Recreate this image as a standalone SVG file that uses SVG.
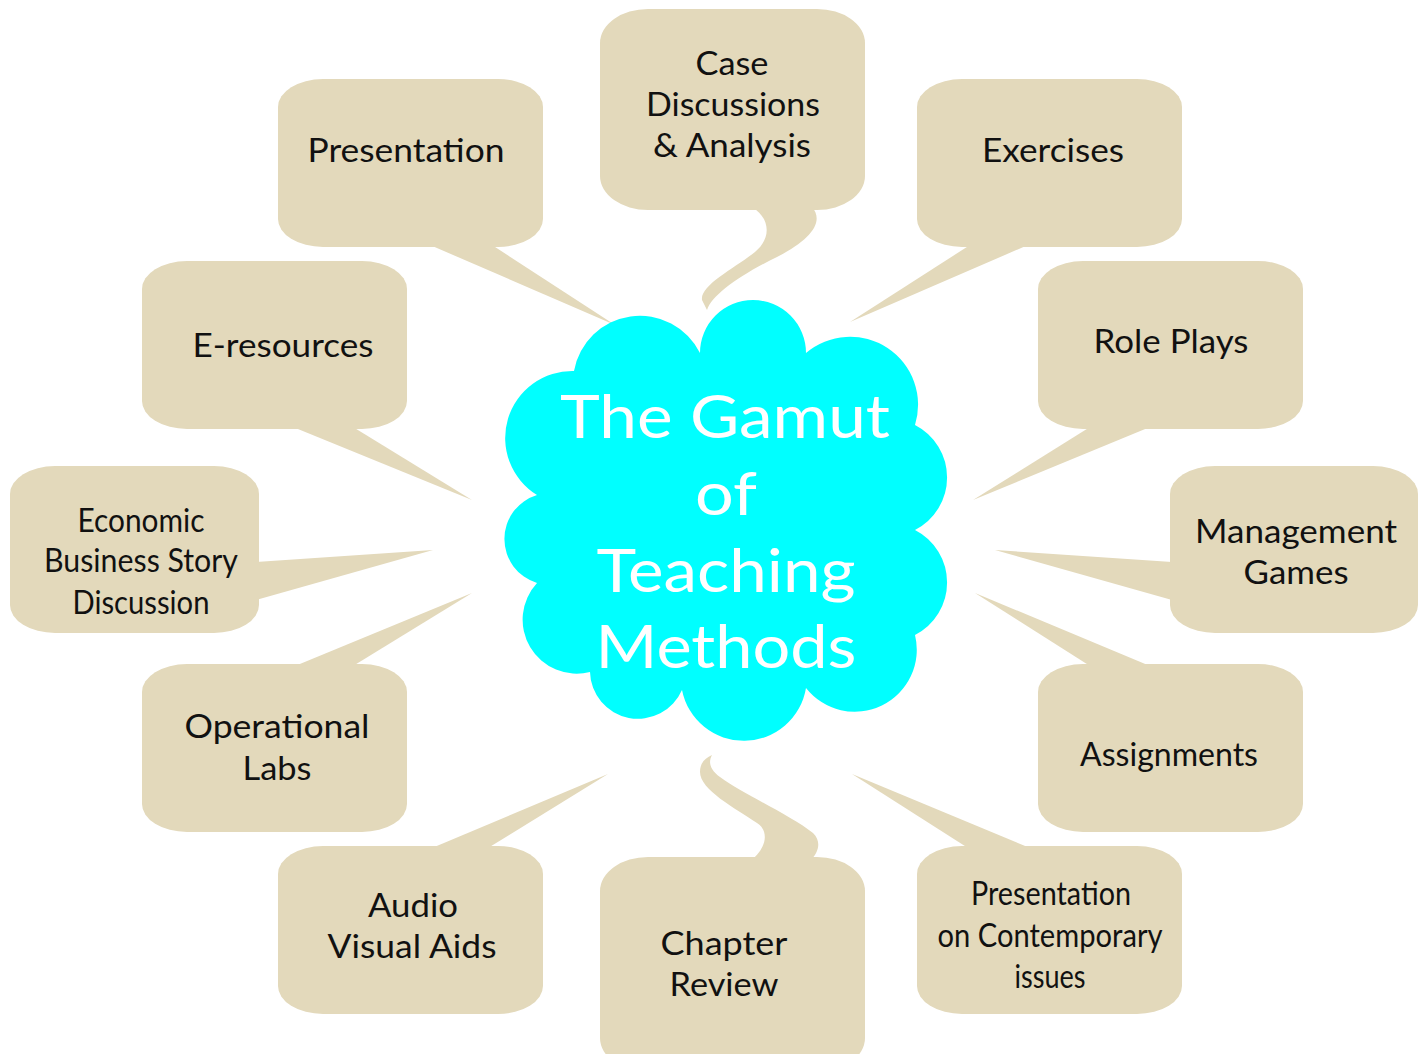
<svg xmlns="http://www.w3.org/2000/svg" width="1424" height="1054" viewBox="0 0 1424 1054">
<style>
.box{fill:#E3D9BB}
.tail{fill:#E3D9BB}
.t{font-family:Lato,"Open Sans","Liberation Sans",sans-serif;font-size:32px;fill:#111;text-anchor:middle}
.c{font-family:Lato,"Open Sans","Liberation Sans",sans-serif;font-size:60px;fill:#fff;text-anchor:middle}
</style>
<rect width="1424" height="1054" fill="#fff"/>
<g id="connectors">
<path class="tail" d="M430,245 L615,325 L492,245 Z"/>
<path class="tail" d="M970,245 L850,322 L1028,245 Z"/>
<path class="tail" d="M293,427 L472,500 L353,427 Z"/>
<path class="tail" d="M1090,427 L973,500 L1150,427 Z"/>
<path class="tail" d="M256,562 L433,550 L256,600 Z"/>
<path class="tail" d="M1172,562 L995,550 L1172,600 Z"/>
<path class="tail" d="M295,666 L472,593 L353,666 Z"/>
<path class="tail" d="M1090,666 L975,593 L1150,666 Z"/>
<path class="tail" d="M432,848 L608,774 L488,848 Z"/>
<path class="tail" d="M968,848 L852,774 L1030,848 Z"/>
<path class="tail" d="M752,207 C770,218 772,238 755,252 C735,268 700,285 702,300 L707,310 C712,295 740,275 777,257 C810,240 825,222 812,207 Z"/>
<path class="tail" d="M753,859 C768,845 768,830 757,823 C735,808 700,790 700,772 C700,763 705,758 712,755 C708,762 710,770 720,777 C745,795 790,815 813,833 C822,842 818,852 812,859 Z"/>
</g>
<g id="n-presentation"><rect class="box" x="278" y="79" width="265" height="168" rx="45" ry="28"/><text class="t" x="406" y="162" textLength="197" lengthAdjust="spacingAndGlyphs">Presentation</text></g>
<g id="n-case"><rect class="box" x="600" y="9" width="265" height="201" rx="48" ry="34"/><text class="t" x="732" y="75" textLength="73" lengthAdjust="spacingAndGlyphs">Case</text><text class="t" x="733" y="116" textLength="174" lengthAdjust="spacingAndGlyphs">Discussions</text><text class="t" x="732" y="157" textLength="158" lengthAdjust="spacingAndGlyphs">&amp; Analysis</text></g>
<g id="n-exercises"><rect class="box" x="917" y="79" width="265" height="168" rx="45" ry="28"/><text class="t" x="1053" y="162" textLength="142" lengthAdjust="spacingAndGlyphs">Exercises</text></g>
<g id="n-eresources"><rect class="box" x="142" y="261" width="265" height="168" rx="45" ry="28"/><text class="t" x="283" y="357" textLength="181" lengthAdjust="spacingAndGlyphs">E-resources</text></g>
<g id="n-roleplays"><rect class="box" x="1038" y="261" width="265" height="168" rx="45" ry="28"/><text class="t" x="1171" y="353" textLength="155" lengthAdjust="spacingAndGlyphs">Role Plays</text></g>
<g id="n-economic"><rect class="box" x="10" y="466" width="249" height="167" rx="45" ry="28"/><text class="t" x="141" y="532" textLength="127" lengthAdjust="spacingAndGlyphs">Economic</text><text class="t" x="141" y="572" textLength="194" lengthAdjust="spacingAndGlyphs">Business Story</text><text class="t" x="141" y="614" textLength="137" lengthAdjust="spacingAndGlyphs">Discussion</text></g>
<g id="n-management"><rect class="box" x="1170" y="466" width="248" height="167" rx="45" ry="28"/><text class="t" x="1296" y="543" textLength="202" lengthAdjust="spacingAndGlyphs">Management</text><text class="t" x="1296" y="584" textLength="105" lengthAdjust="spacingAndGlyphs">Games</text></g>
<g id="n-operational"><rect class="box" x="142" y="664" width="265" height="168" rx="45" ry="28"/><text class="t" x="277" y="738" textLength="185" lengthAdjust="spacingAndGlyphs">Operational</text><text class="t" x="277" y="780" textLength="69" lengthAdjust="spacingAndGlyphs">Labs</text></g>
<g id="n-assignments"><rect class="box" x="1038" y="664" width="265" height="168" rx="45" ry="28"/><text class="t" x="1169" y="766" textLength="178" lengthAdjust="spacingAndGlyphs">Assignments</text></g>
<g id="n-audio"><rect class="box" x="278" y="846" width="265" height="168" rx="45" ry="28"/><text class="t" x="413" y="917" textLength="90" lengthAdjust="spacingAndGlyphs">Audio</text><text class="t" x="412" y="958" textLength="169" lengthAdjust="spacingAndGlyphs">Visual Aids</text></g>
<g id="n-chapter"><rect class="box" x="600" y="857" width="265" height="215" rx="48" ry="34"/><text class="t" x="724" y="955" textLength="127" lengthAdjust="spacingAndGlyphs">Chapter</text><text class="t" x="724" y="996" textLength="109" lengthAdjust="spacingAndGlyphs">Review</text></g>
<g id="n-contemporary"><rect class="box" x="917" y="846" width="265" height="168" rx="45" ry="28"/><text class="t" x="1051" y="905" textLength="160" lengthAdjust="spacingAndGlyphs">Presentation</text><text class="t" x="1050" y="947" textLength="225" lengthAdjust="spacingAndGlyphs">on Contemporary</text><text class="t" x="1050" y="988" textLength="71" lengthAdjust="spacingAndGlyphs">issues</text></g>
<g id="n-center">
<path fill="#00FFFF" d="M574,371 A67,67 0 0 1 700,353 A53,53 0 0 1 806,353 A68,68 0 0 1 915,425 A59,59 0 0 1 915,530 A59,59 0 0 1 915,635 A62,62 0 0 1 806,688 A63,63 0 0 1 682,690 A48,48 0 0 1 590,672 A54,54 0 0 1 537,583 A46,46 0 0 1 537,495 A67,67 0 0 1 574,371 Z"/>
<text class="c" x="725" y="438" textLength="330" lengthAdjust="spacingAndGlyphs">The Gamut</text>
<text class="c" x="726" y="515" textLength="62" lengthAdjust="spacingAndGlyphs">of</text>
<text class="c" x="726" y="592" textLength="259" lengthAdjust="spacingAndGlyphs">Teaching</text>
<text class="c" x="726" y="668" textLength="261" lengthAdjust="spacingAndGlyphs">Methods</text>
</g>
</svg>
